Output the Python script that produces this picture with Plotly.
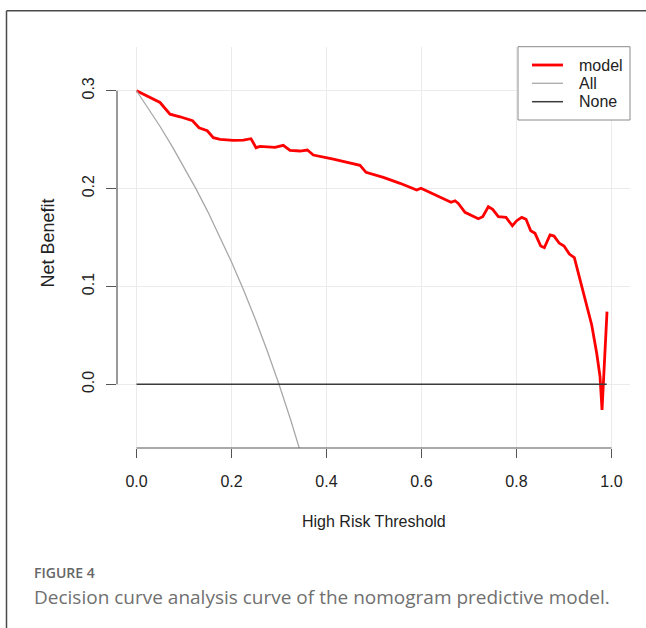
import plotly.graph_objects as go

# ---- data ----
model_x = [0.0, 0.0495, 0.0705, 0.0916, 0.118, 0.1316, 0.149, 0.1617, 0.176, 0.2038,
           0.2249, 0.241, 0.2516, 0.26, 0.2916, 0.309, 0.3232, 0.3443, 0.3597, 0.3723,
           0.4144, 0.4706, 0.4833, 0.5197, 0.5549, 0.59, 0.599, 0.625, 0.6622, 0.6707,
           0.6776, 0.6917, 0.7197, 0.729, 0.7408, 0.75, 0.7619, 0.778, 0.7914, 0.8006,
           0.8111, 0.8202, 0.83, 0.8391, 0.8511, 0.8587, 0.8707, 0.8791, 0.8903, 0.9002,
           0.9114, 0.9219, 0.9339, 0.9444, 0.9585, 0.969, 0.976, 0.9802, 0.9907]
model_y = [0.300, 0.288, 0.276, 0.2734, 0.2693, 0.2622, 0.2591, 0.252, 0.2503, 0.2493,
           0.2496, 0.251, 0.2418, 0.2432, 0.2421, 0.2442, 0.2391, 0.2384, 0.2394, 0.2343,
           0.2302, 0.2238, 0.2166, 0.2115, 0.2054, 0.1985, 0.2003, 0.1944, 0.186, 0.1876,
           0.1849, 0.1757, 0.1692, 0.1713, 0.1815, 0.1788, 0.1713, 0.1706, 0.162, 0.1672,
           0.1706, 0.1686, 0.157, 0.1543, 0.1413, 0.1396, 0.1526, 0.1515, 0.1441, 0.1413,
           0.1331, 0.1294, 0.1066, 0.0879, 0.0606, 0.0317, 0.0078, -0.0263, 0.0742]

all_x = [0.0, 0.025, 0.05, 0.075, 0.1, 0.125, 0.15, 0.175, 0.2, 0.225, 0.25, 0.275, 0.3, 0.325, 0.35]
all_y = [0.3, 0.2821, 0.2632, 0.2432, 0.2222, 0.2, 0.1765, 0.1515, 0.125, 0.0968, 0.0667,
         0.0345, 0.0, -0.037, -0.0769]

none_x = [0.0, 0.99]
none_y = [0.0, 0.0]

x_ticks = [0.0, 0.2, 0.4, 0.6, 0.8, 1.0]
x_labels = ["0.0", "0.2", "0.4", "0.6", "0.8", "1.0"]
y_ticks = [0.0, 0.1, 0.2, 0.3]
y_labels = ["0.0", "0.1", "0.2", "0.3"]

series_names = ["model", "All", "None"]
series_colors = ["#ff0000", "#a8a8a8", "#3a3a3a"]
series_widths = [2.8, 1.3, 1.5]

FONT = "Liberation Sans, Arial, sans-serif"
W, H = 646, 628
L, R, T, B = 117, 16, 47, 180
PW, PH = W - L - R, H - T - B


def px(x):
    return (x - L) / PW


def py(y):
    return (H - B - y) / PH


fig = go.Figure()
for xs, ys, nm, col, wd in zip([model_x, all_x, none_x], [model_y, all_y, none_y],
                               series_names, series_colors, series_widths):
    fig.add_trace(go.Scatter(x=xs, y=ys, mode="lines", name=nm,
                             line=dict(color=col, width=wd), showlegend=False))

fig.update_layout(
    width=W, height=H,
    margin=dict(l=L, r=R, t=T, b=B, pad=0),
    paper_bgcolor="white", plot_bgcolor="white",
    font=dict(family=FONT, color="#222", size=16),
    showlegend=False,
)
fig.update_xaxes(range=[-0.0411, 1.0391], tickvals=x_ticks, ticktext=x_labels,
                 showgrid=True, gridcolor="#ebebeb", gridwidth=1, zeroline=False,
                 showline=False, ticks="outside", ticklen=9, tickwidth=1.2, tickcolor="#555",
                 tickfont=dict(size=16, color="#222"), ticklabelstandoff=10)
fig.update_yaxes(range=[-0.0651, 0.3447], tickvals=y_ticks, ticktext=y_labels,
                 showgrid=True, gridcolor="#ebebeb", gridwidth=1, zeroline=False,
                 showline=False, ticks="outside", ticklen=10, tickwidth=1.2, tickcolor="#555",
                 tickangle=-90, tickfont=dict(size=16, color="#222"), ticklabelstandoff=6)

shapes = [
    # R-style axis lines spanning first to last tick
    dict(type="line", xref="x", yref="paper", x0=x_ticks[0], x1=x_ticks[-1], y0=0, y1=0,
         line=dict(color="#555", width=1.2)),
    dict(type="line", xref="paper", yref="y", x0=0, x1=0, y0=y_ticks[0], y1=y_ticks[-1],
         line=dict(color="#555", width=1.2)),
    # figure frame
    dict(type="line", xref="paper", yref="paper", x0=px(6.5), x1=px(646), y0=py(10.7), y1=py(10.7),
         line=dict(color="#4a4a4a", width=1.5)),
    dict(type="line", xref="paper", yref="paper", x0=px(6.5), x1=px(6.5), y0=py(10.7), y1=py(628),
         line=dict(color="#4a4a4a", width=1.5)),
    # legend box
    dict(type="rect", xref="paper", yref="paper", x0=px(518), x1=px(630), y0=py(120), y1=py(46.7),
         fillcolor="white", line=dict(color="#8a8a8a", width=1)),
]
annotations = []
legend_rows = [65, 83.3, 101.7]
for nm, col, wd, ry in zip(series_names, series_colors, series_widths, legend_rows):
    shapes.append(dict(type="line", xref="paper", yref="paper", x0=px(532), x1=px(563),
                       y0=py(ry), y1=py(ry), line=dict(color=col, width=wd)))
    annotations.append(dict(text=nm, xref="paper", yref="paper", x=px(577), y=py(ry),
                            xanchor="left", yanchor="middle", showarrow=False,
                            font=dict(family=FONT, size=16, color="#222")))
fig.update_layout(shapes=shapes)

annotations += [
    dict(text="High Risk Threshold", xref="paper", yref="paper", x=0.5, y=py(521),
         xanchor="center", yanchor="middle", showarrow=False,
         font=dict(family=FONT, size=16, color="#222")),
    dict(text="Net Benefit", xref="paper", yref="paper", x=px(48), y=py(243.5),
         xanchor="center", yanchor="middle", textangle=-90, showarrow=False,
         font=dict(family=FONT, size=18, color="#222")),
    dict(text="FIGURE 4", xref="paper", yref="paper", x=px(32), y=py(572),
         xanchor="left", yanchor="middle", showarrow=False,
         font=dict(family="Open Sans, sans-serif", size=14, color="#666", weight=600)),
    dict(text="Decision curve analysis curve of the nomogram predictive model.",
         xref="paper", yref="paper", x=px(32), y=py(597),
         xanchor="left", yanchor="middle", showarrow=False,
         font=dict(family="Open Sans, sans-serif", size=19, color="#707070")),
]
fig.update_layout(annotations=annotations)

fig.write_html("out.html")
